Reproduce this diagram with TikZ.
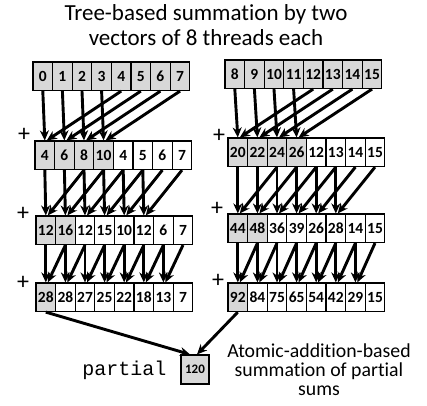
\documentclass[tikz,border=0pt]{standalone}
\usepackage{fontspec}
\setmainfont{Carlito}[Ligatures=NoCommon]
\setmonofont{Liberation Mono}
\usetikzlibrary{arrows.meta}
\definecolor{cellgray}{RGB}{216,216,216}
\tikzset{
  cell/.style={draw=black, line width=1.2pt, minimum width=19.6pt,
    minimum height=28.5pt, inner sep=0pt,
    font=\fontsize{15.5}{15.5}\selectfont\bfseries},
  sumarrow/.style={line width=2.9pt, -{Stealth[length=10pt,width=9pt]}},
  plus/.style={font=\fontsize{24}{24}\selectfont, inner sep=0pt},
  caption/.style={font=\fontsize{23}{23}\selectfont, anchor=base, inner sep=0pt},
  note/.style={font=\fontsize{19.8}{19.8}\selectfont, anchor=base, inner sep=0pt},
}
% one row of eight cells: name, left x, top y, number of shaded cells, values
\newcommand\cellrow[5]{%
  \foreach \v [count=\i from 0] in {#5}{%
    \ifnum\i<#4\relax\def\cfill{cellgray}\else\def\cfill{white}\fi
    \node[cell, fill=\cfill] (#1-\i) at ({#2+(\i+0.5)*19.6}, {#3+14.25}) {\v};
  }}
% one reduction step: source row, target row, stride, last target index
\newcommand\sumstep[4]{%
  \foreach \k in {0,...,#4}{%
    \pgfmathtruncatemacro\s{\k+#3}
    \draw[sumarrow] (#1-\k.south) -- (#2-\k.north);
    \draw[sumarrow] (#1-\s.south) -- ([xshift=2pt]#2-\k.north);
  }}
\begin{document}
\begin{tikzpicture}[x=1pt, y=-1pt]
  \useasboundingbox (0,0) rectangle (427,405);

  % heading
  \node[caption] (title1) at (206,20) {Tree-based summation by two};
  \node[caption] (title2) at (206,45) {vectors of 8 threads each};

  % first vector of threads
  \cellrow{L1}{33}{62}{8}{0,1,2,3,4,5,6,7}
  \cellrow{L2}{35}{141}{4}{4,6,8,10,4,5,6,7}
  \cellrow{L3}{36}{216}{2}{12,16,12,15,10,12,6,7}
  \cellrow{L4}{36}{283}{1}{28,28,27,25,22,18,13,7}

  % second vector of threads
  \cellrow{R1}{225}{60}{8}{8,9,10,11,12,13,14,15}
  \cellrow{R2}{228}{138}{4}{20,22,24,26,12,13,14,15}
  \cellrow{R3}{228}{214}{2}{44,48,36,39,26,28,14,15}
  \cellrow{R4}{228}{283}{1}{92,84,75,65,54,42,29,15}

  % additions
  \node[plus] (pl2) at (24,135) {+};
  \node[plus] (pl3) at (23,214) {+};
  \node[plus] (pl4) at (23,283) {+};
  \node[plus] (pr2) at (219,136) {+};
  \node[plus] (pr3) at (217,209) {+};
  \node[plus] (pr4) at (218,281) {+};

  \sumstep{L1}{L2}{4}{3}
  \sumstep{L2}{L3}{2}{5}
  \sumstep{L3}{L4}{1}{6}
  \sumstep{R1}{R2}{4}{3}
  \sumstep{R2}{R3}{2}{5}
  \sumstep{R3}{R4}{1}{6}

  % atomic accumulation into the partial sum
  \node[cell, fill=cellgray, minimum width=28pt, minimum height=29pt,
        font=\fontsize{13}{13}\selectfont\bfseries] (P) at (195,369.5) {120};
  \node[font=\ttfamily\fontsize{20}{20}\selectfont, anchor=base, inner sep=0pt]
        (plabel) at (124.5,375) {partial};
  \draw[sumarrow] (L4-0.south) -- ([xshift=-5pt]P.north);
  \draw[sumarrow] (R4-0.south) -- ([xshift=2pt]P.north);

  \node[note] (n1) at (319,357) {Atomic-addition-based};
  \node[note] (n2) at (319,376) {summation of partial};
  \node[note] (n3) at (319,395) {sums};
\end{tikzpicture}
\end{document}
